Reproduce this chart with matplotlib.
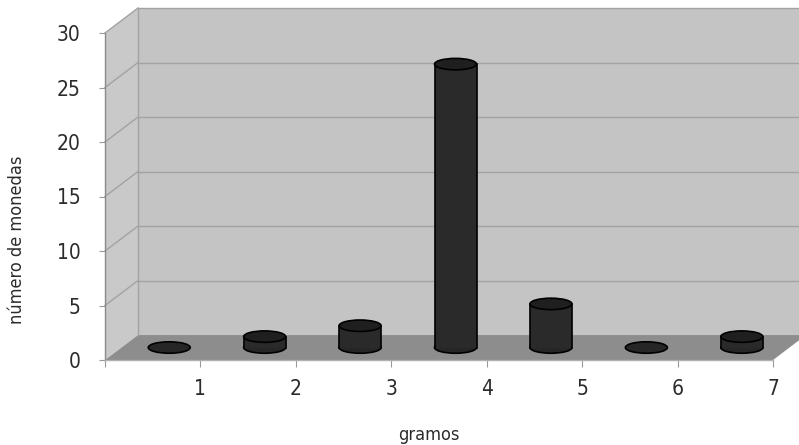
import numpy as np
import matplotlib.pyplot as plt
from matplotlib.patches import Polygon, Ellipse, Rectangle

gramos = ['1', '2', '3', '4', '5', '6', '7']
monedas = [0, 1, 2, 26, 4, 0, 1]
yticks = [0, 5, 10, 15, 20, 25, 30]

plt.rcParams['font.family'] = ['Liberation Sans Narrow', 'DejaVu Sans']
plt.rcParams['font.stretch'] = 'condensed'

fig = plt.figure(figsize=(7.99, 4.45), dpi=100)
ax = fig.add_axes([105 / 799, 85 / 445, 668 / 799, 327 / 445])
ax.set_xlim(0, 7)
ax.set_ylim(0, 30)

# depth offset of the back wall, in data units
dx, dy = 0.346, 2.29
wall = '#c4c4c4'
side = '#c9c9c9'
floor = '#8d8d8d'
grid = '#a2a2a2'

n = len(gramos)
ymax = yticks[-1]

# walls and floor
ax.add_patch(Polygon([(dx, dy), (n + dx, dy), (n + dx, ymax + dy), (dx, ymax + dy)],
                     closed=True, fc=wall, ec='none', clip_on=False, zorder=1))
ax.add_patch(Polygon([(0, 0), (dx, dy), (dx, ymax + dy), (0, ymax)],
                     closed=True, fc=side, ec='none', clip_on=False, zorder=1))
ax.add_patch(Polygon([(0, 0), (n, 0), (n + dx, dy), (dx, dy)],
                     closed=True, fc=floor, ec='none', clip_on=False, zorder=2))

for t in yticks[1:]:
    ax.plot([0, dx], [t, t + dy], color=grid, lw=1, clip_on=False, zorder=3)
    ax.plot([dx, n + dx], [t + dy, t + dy], color=grid, lw=1, clip_on=False, zorder=3)
ax.plot([dx, dx], [dy, ymax + dy], color=grid, lw=1, clip_on=False, zorder=3)
ax.plot([0, 0], [0, ymax], color='#8a8a8a', lw=1, clip_on=False, zorder=3)
ax.plot([0, n], [0, 0], color='#b0b0b0', lw=1, clip_on=False, zorder=3)

# cylinders, placed halfway into the depth
bw, eh = 0.44, 1.05
for i, v in enumerate(monedas):
    cx = i + 0.5 + dx / 2
    yb = dy / 2
    ax.add_patch(Ellipse((cx, yb), bw, eh, fc='#262626', ec='black', lw=1.2,
                         clip_on=False, zorder=5))
    if v > 0:
        ax.add_patch(Rectangle((cx - bw / 2, yb), bw, v, fc='#2a2a2a', ec='none',
                               clip_on=False, zorder=6))
        ax.plot([cx - bw / 2, cx - bw / 2], [yb, yb + v], color='black', lw=1.2,
                clip_on=False, zorder=7)
        ax.plot([cx + bw / 2, cx + bw / 2], [yb, yb + v], color='black', lw=1.2,
                clip_on=False, zorder=7)
        ax.add_patch(Ellipse((cx, yb + v), bw, eh, fc='#1f1f1f', ec='black', lw=1.2,
                             clip_on=False, zorder=8))

for s in ax.spines.values():
    s.set_visible(False)
ax.set_facecolor('none')

ax.set_yticks(yticks)
ax.set_yticklabels([str(t) for t in yticks])
ax.set_xticks(range(0, n + 1))
ax.set_xticklabels([''] + gramos)
ax.tick_params(axis='y', length=4.5, color='#9a9a9a', pad=13, labelsize=15, labelcolor='#2b2b2b')
ax.tick_params(axis='x', length=5, color='#9a9a9a', pad=9, labelsize=15, labelcolor='#2b2b2b')

ax.set_ylabel('número de monedas', fontsize=13, color='#2b2b2b', va='center')
ax.yaxis.set_label_coords(-0.1317, 0.367)
ax.set_xlabel('gramos', fontsize=13, color='#2b2b2b', va='center')
ax.xaxis.set_label_coords(0.485, -0.229)

fig.savefig('out.png', dpi=100, facecolor='white')
